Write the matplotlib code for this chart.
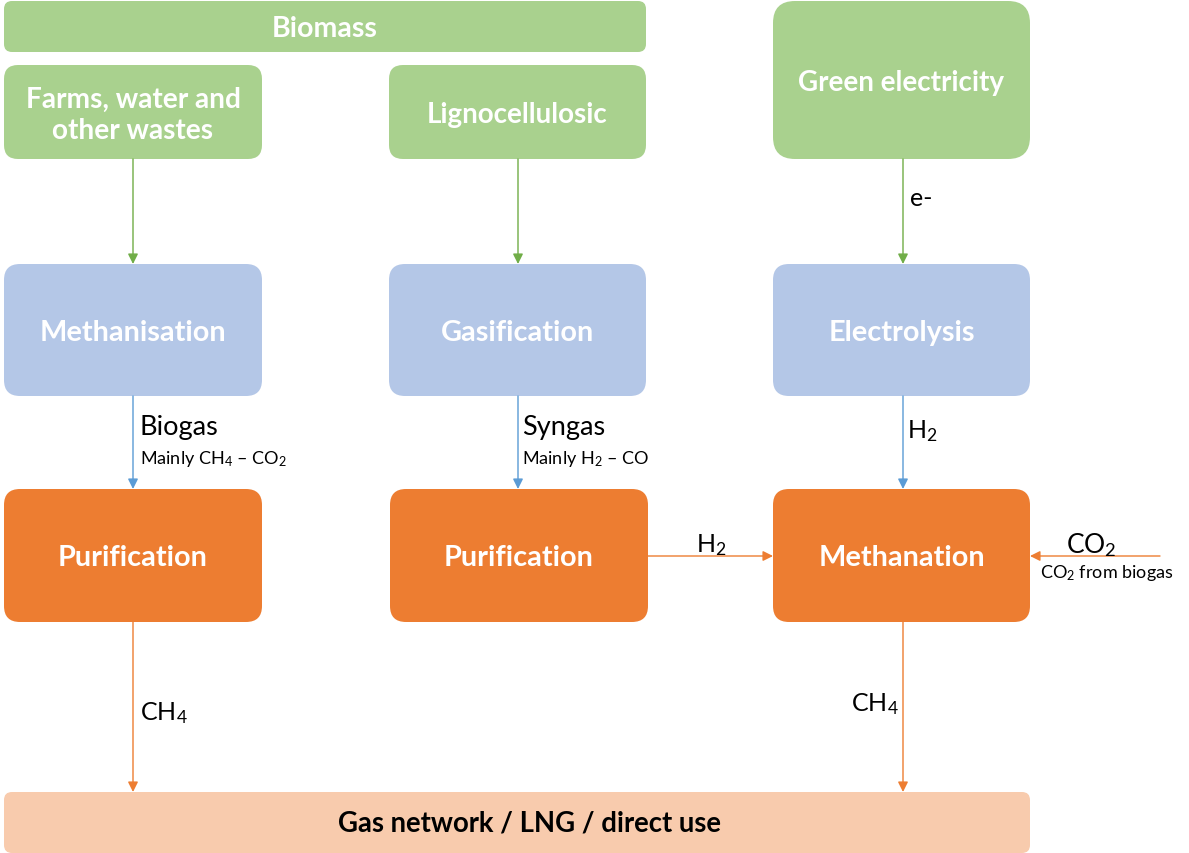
import matplotlib.pyplot as plt
from matplotlib.patches import FancyBboxPatch

plt.rcParams['font.family'] = ['Lato', 'DejaVu Sans']
plt.rcParams['mathtext.fontset'] = 'custom'
plt.rcParams['mathtext.rm'] = 'Lato'
plt.rcParams['mathtext.it'] = 'Lato:italic'
plt.rcParams['mathtext.bf'] = 'Lato:bold'

# node labels
sources = ["Farms, water and\nother wastes", "Lignocellulosic", "Green electricity"]
processes = ["Methanisation", "Gasification", "Electrolysis"]
treatments = ["Purification", "Purification", "Methanation"]
top_label = "Biomass"
end_label = "Gas network / LNG / direct use"

# flow labels
flow_main = ["Biogas", "Syngas", r"H$_\mathrm{2}$"]
flow_sub = [r"Mainly CH$_\mathrm{4}$ – CO$_\mathrm{2}$", r"Mainly H$_\mathrm{2}$ – CO", ""]
elec_label = "e-"
cross_label = r"H$_\mathrm{2}$"
co2_label = r"CO$_\mathrm{2}$"
co2_sub = r"CO$_\mathrm{2}$ from biogas"
out_label = r"CH$_\mathrm{4}$"

GREEN = "#A9D18E"
GREEN_LINE = "#70AD47"
BLUE = "#B4C7E7"
BLUE_LINE = "#5B9BD5"
ORANGE = "#ED7D31"
PEACH = "#F8CBAD"

fig = plt.figure(figsize=(11.89, 8.54), dpi=100)
ax = fig.add_axes([0, 0, 1, 1])
ax.set_xlim(0, 1189)
ax.set_ylim(854, 0)
ax.axis("off")


def box(x0, y0, x1, y1, color, r, text, tcolor="white", size=20.5, ty=None, tx=None):
    p = FancyBboxPatch((x0, y0), x1 - x0, y1 - y0,
                       boxstyle=f"round,pad=0,rounding_size={r}",
                       fc=color, ec="none")
    ax.add_patch(p)
    if ty is None:
        ty = (y0 + y1) / 2 + 2
    if tx is None:
        tx = (x0 + x1) / 2
    ax.text(tx, ty, text, ha="center", va="center",
            color=tcolor, fontsize=size, fontweight="bold", linespacing=1.25)


def arrow(x0, y0, x1, y1, color):
    ax.annotate("", xy=(x1, y1), xytext=(x0, y0),
                arrowprops=dict(arrowstyle="-|>,head_length=0.6,head_width=0.3",
                                color=color, lw=1, shrinkA=0, shrinkB=0))


cols = [(4, 262), (389, 646), (773, 1030)]
tcols = [(4, 262), (390, 648), (773, 1030)]
centers = [133, 518, 903]

box(4, 2, 646, 53, GREEN, 8, top_label, size=20.5, ty=29)
box(4, 66, 262, 160, GREEN, 14, sources[0], size=20.2, ty=115)
box(389, 66, 646, 160, GREEN, 14, sources[1], size=20)
box(773, 2, 1030, 160, GREEN, 22, sources[2], size=20, ty=83)

for (x0, x1), lab in zip(cols, processes):
    box(x0, 265, x1, 397, BLUE, 16, lab, size=20.8)
for (x0, x1), lab in zip(tcols, treatments):
    box(x0, 490, x1, 623, ORANGE, 16, lab, size=20.8)

box(4, 793, 1030, 854, PEACH, 8, end_label, tcolor="black", size=19.8,
    ty=824, tx=530)

for cx in centers:
    arrow(cx, 160, cx, 265, GREEN_LINE)
    arrow(cx, 397, cx, 490, BLUE_LINE)
arrow(133, 623, 133, 793, ORANGE)
arrow(903, 623, 903, 793, ORANGE)
arrow(648, 557, 773, 557, ORANGE)
arrow(1160, 557, 1030, 557, ORANGE)

ax.text(910, 198, elec_label, ha="left", va="center", fontsize=18)
ax.text(140, 428, flow_main[0], ha="left", va="center", fontsize=19.5)
ax.text(140, 459, flow_sub[0], ha="left", va="center", fontsize=13)
ax.text(522, 428, flow_main[1], ha="left", va="center", fontsize=19.5)
ax.text(522, 459, flow_sub[1], ha="left", va="center", fontsize=13)
ax.text(907, 431, flow_main[2], ha="left", va="center", fontsize=18)
ax.text(711, 545, cross_label, ha="center", va="center", fontsize=18)
ax.text(1066, 545, co2_label, ha="left", va="center", fontsize=19)
ax.text(1040, 573, co2_sub, ha="left", va="center", fontsize=13)
ax.text(140, 713, out_label, ha="left", va="center", fontsize=18)
ax.text(851, 704, out_label, ha="left", va="center", fontsize=18)

fig.savefig("out.png", dpi=100)
